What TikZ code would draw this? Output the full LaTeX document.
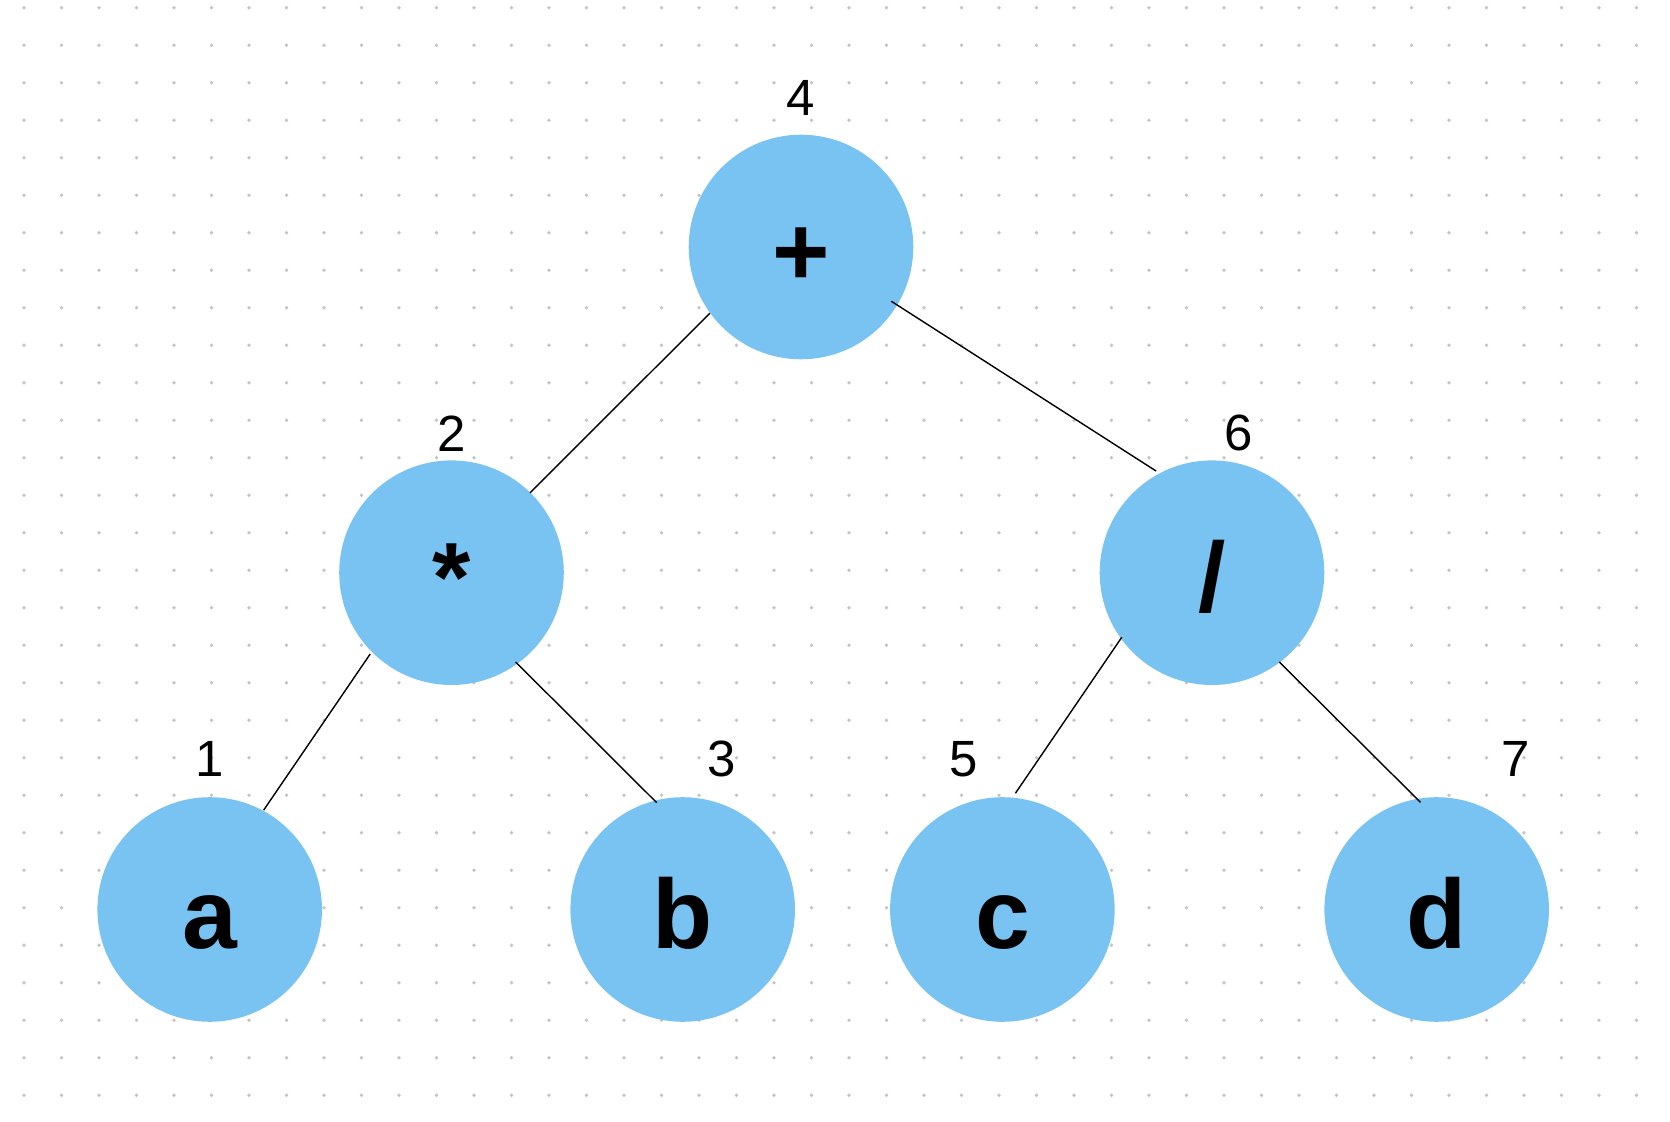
\documentclass[tikz,border=0pt]{standalone}
\usepackage{fontspec}
\setmainfont{Liberation Sans}
\definecolor{nodeblue}{HTML}{78C3F1}
\definecolor{dotgray}{HTML}{C4C4C4}

\begin{document}
\begin{tikzpicture}[
    op/.style={circle,fill=nodeblue,minimum size=2.246cm,inner sep=0pt,
      font=\bfseries\fontsize{28pt}{30pt}\selectfont,text height=0.78cm,text depth=0pt},
    num/.style={inner sep=0pt,font=\fontsize{14.5pt}{17pt}\selectfont},
    edge/.style={line width=0.4pt}]
  \useasboundingbox (0,0) rectangle (16.7,11.22);
  \foreach \i in {0,...,43}
    \foreach \j in {0,...,29}
      \fill[dotgray] (0.24+0.375*\i,0.268+0.375*\j) circle (0.019);
  \node[op] (plus) at (8.01,8.75) {+};
  \node[num] (plusnum) at (8.003,10.237) {4};
  \node[op] (times) at (4.515,5.493) {*};
  \node[num] (timesnum) at (4.517,6.887) {2};
  \node[op] (divide) at (12.12,5.493) {/};
  \node[num] (dividenum) at (12.39,6.89) {6};
  \node[op] (a) at (2.097,2.125) {a};
  \node[num] (anum) at (2.099,3.63) {1};
  \node[op] (b) at (6.827,2.125) {b};
  \node[num] (bnum) at (7.214,3.63) {3};
  \node[op] (c) at (10.024,2.125) {c};
  \node[num] (cnum) at (9.64,3.63) {5};
  \node[op] (d) at (14.367,2.125) {d};
  \node[num] (dnum) at (15.159,3.63) {7};
  \draw[edge] ([shift={(216:1.126)}]plus.center) -- ([shift={(45.5:1.12)}]times.center);
  \draw[edge] ([shift={(329:1.054)}]plus.center) -- ([shift={(118.8:1.16)}]divide.center);
  \draw[edge] ([shift={(225:1.15)}]times.center) -- ([shift={(61.5:1.13)}]a.center);
  \draw[edge] ([shift={(305.7:1.1)}]times.center) -- ([shift={(103.7:1.1)}]b.center);
  \draw[edge] ([shift={(215.6:1.11)}]divide.center) -- ([shift={(83.6:1.17)}]c.center);
  \draw[edge] ([shift={(307:1.118)}]divide.center) -- ([shift={(98.6:1.084)}]d.center);
\end{tikzpicture}
\end{document}
